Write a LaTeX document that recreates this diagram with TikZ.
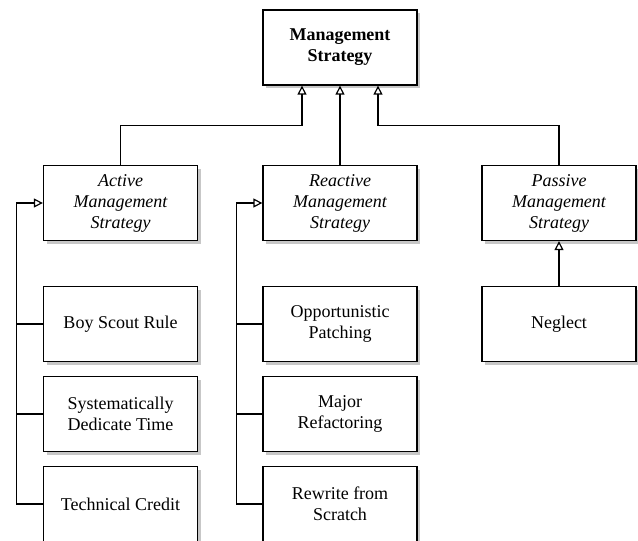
\documentclass[tikz,border=0pt]{standalone}
\usepackage{fontspec}
\setmainfont{Liberation Serif}
\usetikzlibrary{arrows.meta}
\tikzset{pxp/.style={
  x=1pt,
  y=-1pt
}}
\tikzset{cls/.style={
  draw,
  fill=white,
  line width=1.3pt,
  minimum width=154pt,
  minimum height=75pt,
  inner sep=2pt,
  align=center,
  font=\fontsize{18}{21}\selectfont,
  preaction={fill=black!22,transform canvas={xshift=3pt,yshift=-3pt}}
}}
\tikzset{abs/.style={
  cls,
  font=\fontsize{18}{21}\selectfont\itshape
}}
\tikzset{top/.style={
  cls,
  font=\fontsize{18}{21}\selectfont\bfseries
}}
\tikzset{lnk/.style={line width=1.2pt}}
\tikzset{gen/.style={
  lnk,
  -{Triangle[open,length=9pt,width=9pt,line width=1.2pt]}
}}
\tikzset{genb/.style={gen,line width=2.3pt}}

\begin{document}
\begin{tikzpicture}[pxp]

    \useasboundingbox (0,0) rectangle (638,541);

    %% Base class

    \node[top] (ms) at (340,47.5) {Management\\Strategy};

    %% Strategies

    \node[abs] (active) at (120.5,203) {Active\\Management\\Strategy};
    \node[abs] (reactive) at (340,203) {Reactive\\Management\\Strategy};
    \node[abs] (passive) at (559,203) {Passive\\Management\\Strategy};

    %% Concrete ones

    \node[cls] (boyscout) at (120.5,324) {Boy Scout Rule};
    \node[cls] (sysdedicate) at (120.5,414) {Systematically\\Dedicate Time};
    \node[cls] (techcredit) at (120.5,504) {Technical Credit};
    \node[cls] (opportunistic) at (340,324) {Opportunistic\\Patching};
    \node[cls] (major) at (340,414) {Major\\Refactoring};
    \node[cls] (rewrite) at (340,504) {Rewrite from\\Scratch};
    \node[cls] (neglect) at (559,324) {Neglect};

    %% Generalisations

    \draw[gen] (active.north) -- ++(0,-39) -| ([xshift=-38pt]ms.south);
    \draw[genb] (reactive.north) -- (ms.south);
    \draw[gen] (passive.north) -- ++(0,-39) -| ([xshift=38pt]ms.south);
    \draw[genb] (neglect.north) -- (passive.south);

    % Left tree
    \draw[gen] (techcredit.west) -- ++(-26,0) |- (active.west);
    \draw[lnk] (boyscout.west) -- ++(-26,0);
    \draw[lnk] (sysdedicate.west) -- ++(-26,0);

    % Middle tree
    \draw[gen] (rewrite.west) -- ++(-26,0) |- (reactive.west);
    \draw[lnk] (opportunistic.west) -- ++(-26,0);
    \draw[lnk] (major.west) -- ++(-26,0);

\end{tikzpicture}
\end{document}
